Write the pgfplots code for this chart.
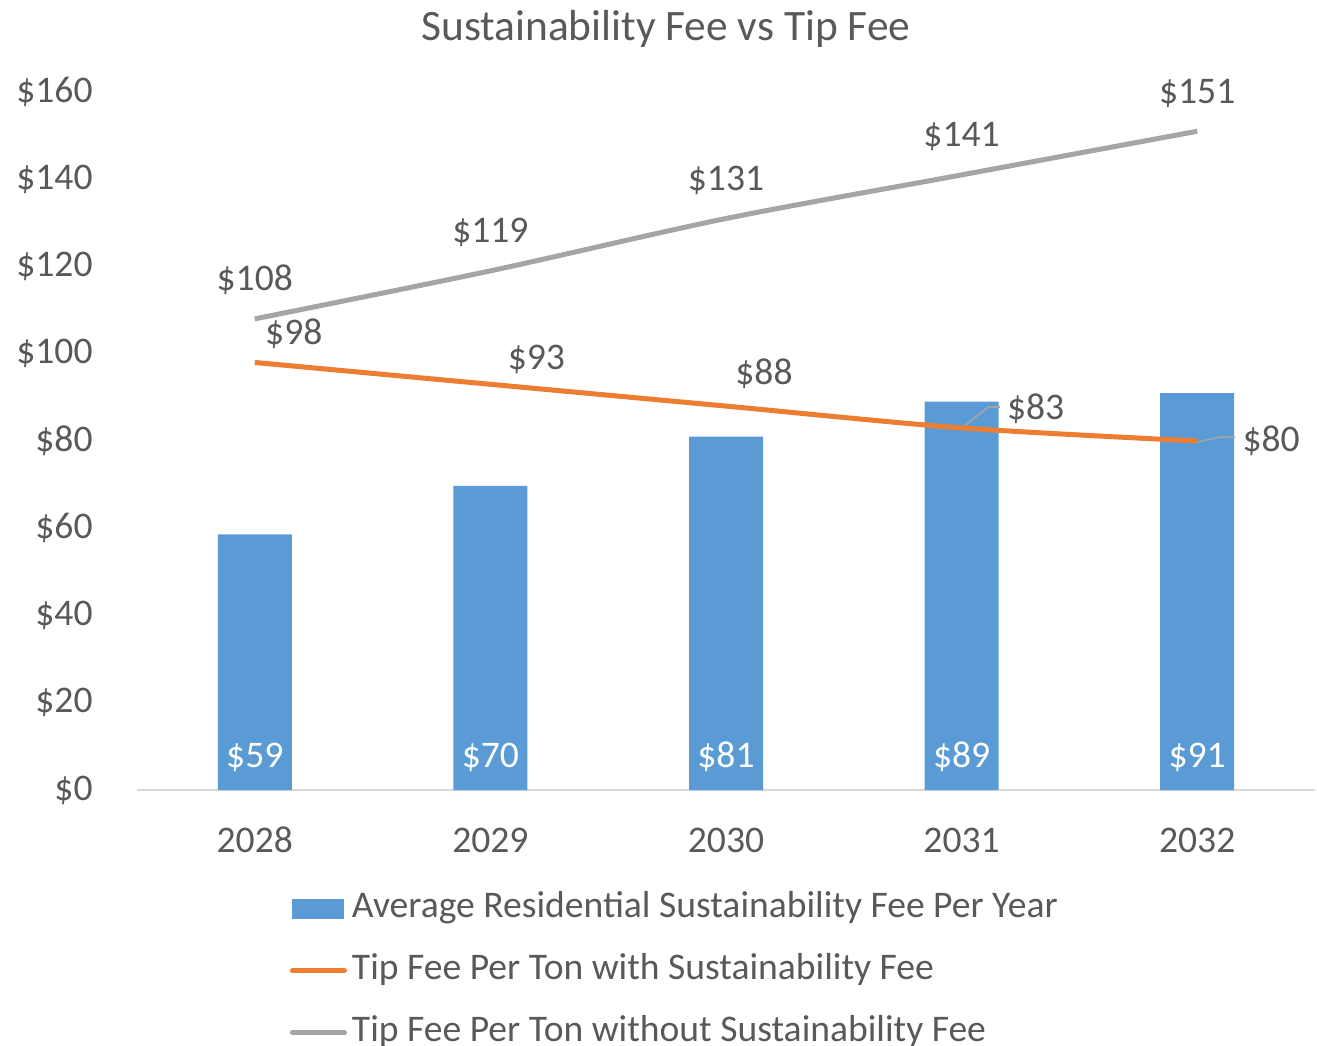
\documentclass[border=0pt]{standalone}
\usepackage{pgfplots}
\usepackage{pgfplotstable}
\pgfplotsset{compat=1.18}
\usepackage{fontspec}
\setmainfont{Carlito}
\definecolor{txt}{HTML}{595959}
\definecolor{axisGray}{HTML}{D9D9D9}
\definecolor{barBlue}{HTML}{5B9BD5}
\definecolor{orangeL}{HTML}{ED7D31}
\definecolor{grayL}{HTML}{A5A5A5}
\newcommand{\lblfont}{\fontsize{18.8}{22}\selectfont}
\pgfplotstableread{
x fee lbl base
0 58.6 59 0
1 69.7 70 0
2 81 81 0
3 89 89 0
4 91 91 0
}\bartab
\pgfplotstableread{
x y lbl dx dy
0 98 98 19.5 14.8
1 93 93 23 13.2
2 88 88 19 16.5
3 83 83 37 10.2
4 80 80 37 0.5
}\orangetab
\pgfplotstableread{
x y
0 108
1 119
2 131
3 141
4 151
}\graytab
\begin{document}
\begin{tikzpicture}
\useasboundingbox (-68.5pt,-127.5pt) rectangle (590pt,395pt);
\begin{axis}[
  at={(0,0)}, anchor=south west,
  scale only axis, width=589pt, height=349pt,
  xmin=-0.5, xmax=4.5, ymin=0, ymax=160,
  clip=false,
  axis x line*=bottom, axis y line*=left,
  y axis line style={draw=none},
  x axis line style={draw=axisGray, line width=1pt},
  major tick length=0pt,
  xtick={0,1,2,3,4}, xticklabels={2028,2029,2030,2031,2032},
  ytick={0,20,40,60,80,100,120,140,160},
  yticklabels={\$0,\$20,\$40,\$60,\$80,\$100,\$120,\$140,\$160},
  tick label style={font=\lblfont, text=txt},
  yticklabel style={anchor=east, inner sep=0pt, xshift=-22pt},
  xticklabel style={anchor=north, inner sep=0pt, yshift=-19pt, text height=11.8pt},
  title={Sustainability Fee vs Tip Fee},
  title style={font=\fontsize{21.7}{26}\selectfont, text=txt, at={(axis description cs:0.449,1.056)}, anchor=base, inner sep=0pt},
  legend style={at={(axis description cs:0.1295,-0.146)}, anchor=north west, draw=none, fill=none, inner sep=0pt, row sep=14.6pt, column sep=2.5pt, font=\lblfont, text=txt, nodes={inner sep=0pt, text height=12.7pt, text depth=3.7pt}},
  legend cell align=left,
]
\addplot[ybar, bar width=37pt, fill=barBlue, draw=none,
  legend image code/.code={\fill[barBlue] (0pt,-5pt) rectangle (26pt,5pt);}]
  table[x=x, y=fee] {\bartab};
\addlegendentry{Average Residential Sustainability Fee Per Year}
\addplot[draw=none, mark=none, forget plot,
  nodes near coords={\$\pgfplotspointmeta}, point meta=explicit symbolic,
  every node near coord/.append style={anchor=base, yshift=11.2pt, text=white, font=\lblfont}]
  table[x=x, y=base, meta=lbl] {\bartab};
\draw[grayL, line width=0.8pt] (axis cs:3,83) -- (axis cs:3.1135,87.8) -- (axis cs:3.164,87.8);
\draw[grayL, line width=0.8pt] (axis cs:4.004,79.8) -- (axis cs:4.098,80.9) -- (axis cs:4.161,80.9);
\addplot[orangeL, line width=2.5pt, smooth, mark=none,
  legend image code/.code={\draw[orangeL, line width=2.5pt, line cap=round] (0pt,0pt) -- (26pt,0pt);},
  nodes near coords={\$\pgfplotspointmeta}, point meta=explicit symbolic,
  visualization depends on={\thisrow{dx} \as \dx},
  visualization depends on={\thisrow{dy} \as \dy},
  every node near coord/.append style={anchor=base, xshift=\dx pt, yshift=\dy pt-5.9pt, text=txt, font=\lblfont}]
  table[x=x, y=y, meta=lbl] {\orangetab};
\addlegendentry{Tip Fee Per Ton with Sustainability Fee}
\addplot[grayL, line width=2.5pt, smooth, mark=none,
  legend image code/.code={\draw[grayL, line width=2.5pt, line cap=round] (0pt,0pt) -- (26pt,0pt);},
  nodes near coords={\$\pgfplotspointmeta}, point meta=explicit symbolic,
  every node near coord/.append style={anchor=base, yshift=14.1pt, text=txt, font=\lblfont}]
  table[x=x, y=y, meta=y] {\graytab};
\addlegendentry{Tip Fee Per Ton without Sustainability Fee}
\end{axis}
\end{tikzpicture}
\end{document}
